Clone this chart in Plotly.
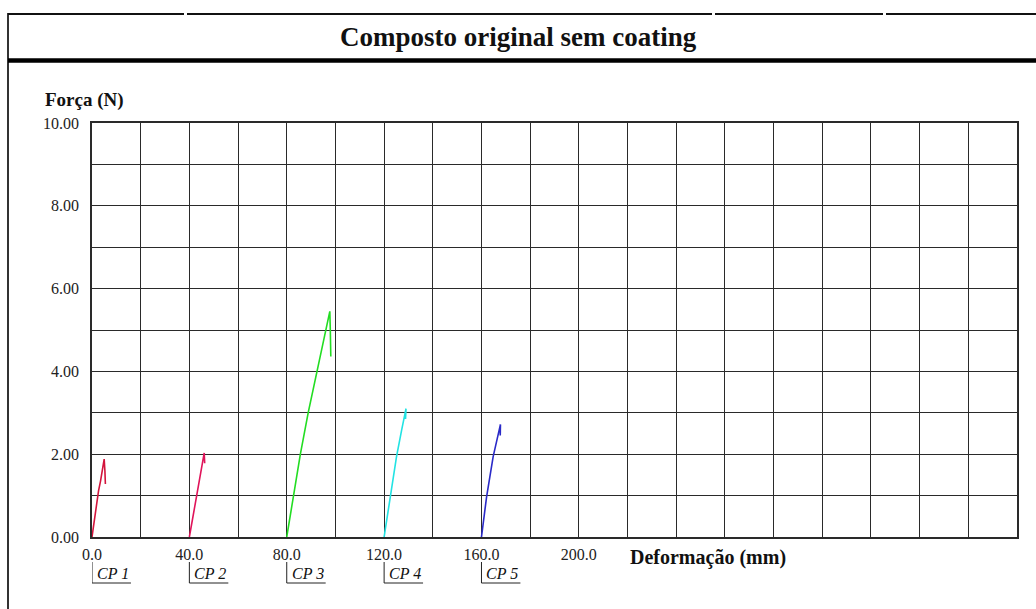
import plotly.graph_objects as go

# ---- data ----
series_names = ["CP 1", "CP 2", "CP 3", "CP 4", "CP 5"]
offsets = [0, 40, 80, 120, 160]
colors = ["#d3143c", "#e0145a", "#22dd22", "#22e3e3", "#2a2ac8"]

cp1_def = [0, 1.2, 2.4, 2.7, 3.5, 4.3, 4.8, 5.0, 5.3, 5.5]
cp1_force = [0, 0.55, 1.05, 1.12, 1.35, 1.7, 1.86, 1.88, 1.6, 1.28]
cp2_def = [0, 3.0, 5.8, 6.1, 6.3]
cp2_force = [0, 1.0, 1.95, 2.03, 1.78]
cp3_def = [0, 2.7, 5.6, 8.8, 12.0, 15.0, 17.2, 17.7, 17.9, 18.1]
cp3_force = [0, 0.97, 2.0, 3.0, 3.9, 4.75, 5.3, 5.45, 5.0, 4.36]
cp4_def = [0, 2.4, 5.1, 7.2, 8.6, 9.0, 8.8]
cp4_force = [0, 0.97, 1.94, 2.58, 2.95, 3.1, 2.85]
cp5_def = [0, 2.1, 4.8, 6.6, 7.6, 7.8, 7.7, 7.75]
cp5_force = [0, 0.97, 1.94, 2.4, 2.6, 2.72, 2.45, 2.55]

x_grid = list(range(0, 381, 20))
x_labels = {0: "0.0", 40: "40.0", 80: "80.0", 120: "120.0", 160: "160.0", 200: "200.0"}
y_grid = list(range(0, 11, 1))
y_labels = {0: "0.00", 2: "2.00", 4: "4.00", 6: "6.00", 8: "8.00", 10: "10.00"}

title_text = "Composto original sem coating"
y_title = "Força (N)"
x_title = "Deformação (mm)"

# ---- geometry helpers (pixel -> paper) ----
W, H = 1036, 609
L, R, T, B = 92, 19, 123, 72
PW, PH = W - L - R, H - T - B


def px(x):
    return (x - L) / PW


def py(y):
    return (H - B - y) / PH


fig = go.Figure()
defs = [cp1_def, cp2_def, cp3_def, cp4_def, cp5_def]
forces = [cp1_force, cp2_force, cp3_force, cp4_force, cp5_force]
for name, off, col, d, f in zip(series_names, offsets, colors, defs, forces):
    fig.add_trace(go.Scatter(
        x=[off + v for v in d], y=f, mode="lines", name=name,
        line=dict(color=col, width=1.6), hoverinfo="skip"))

serif = "Liberation Serif"
grid_col = "#2a2a2a"

fig.update_layout(
    width=W, height=H, autosize=False,
    margin=dict(l=L, r=R, t=T, b=B, pad=0),
    paper_bgcolor="white", plot_bgcolor="white",
    showlegend=False,
    font=dict(family=serif, color="#111"),
    xaxis=dict(range=[0, 380], tickmode="array", tickvals=x_grid,
               ticktext=[x_labels.get(v, "") for v in x_grid],
               showgrid=True, gridcolor=grid_col, gridwidth=1.2,
               showline=True, linecolor=grid_col, linewidth=1.5, mirror=True,
               zeroline=False, ticks="", tickfont=dict(size=16, family=serif, color="#222"),
               ticklabelstandoff=2, fixedrange=True),
    yaxis=dict(range=[0, 10], tickmode="array", tickvals=y_grid,
               ticktext=[y_labels.get(v, "") for v in y_grid],
               showgrid=True, gridcolor=grid_col, gridwidth=1.2,
               showline=True, linecolor=grid_col, linewidth=1.5, mirror=True,
               zeroline=False, ticks="", tickfont=dict(size=16, family=serif, color="#222"),
               ticklabelstandoff=8, fixedrange=True),
)

# Title and axis titles
fig.add_annotation(text="<b>" + title_text + "</b>", xref="paper", yref="paper",
                   x=px(518), y=py(37), xanchor="center", yanchor="middle",
                   showarrow=False, font=dict(size=27, family=serif, color="#111"))
fig.add_annotation(text="<b>" + y_title + "</b>", xref="paper", yref="paper",
                   x=px(43), y=py(100), xanchor="left", yanchor="middle",
                   showarrow=False, font=dict(size=19, family=serif, color="#111"))
fig.add_annotation(text="<b>" + x_title + "</b>", xref="paper", yref="paper",
                   x=px(628), y=py(557), xanchor="left", yanchor="middle",
                   showarrow=False, font=dict(size=20, family=serif, color="#111"))

# CP labels with L brackets
for name, off in zip(series_names, offsets):
    fig.add_annotation(text="<i>" + name + "</i>", xref="x", yref="paper",
                       x=off, y=py(573), xanchor="left", yanchor="middle", xshift=3,
                       showarrow=False, font=dict(size=16, family=serif, color="#111"))
    fig.add_shape(type="line", xref="x", yref="paper", x0=off, x1=off,
                  y0=py(562), y1=py(583), line=dict(color="#222", width=1))
    fig.add_shape(type="line", xref="x", yref="paper", x0=off, x1=off + 16,
                  y0=py(583), y1=py(583), line=dict(color="#222", width=1))

# Outer frame pieces
frame = "#111"
fig.add_shape(type="line", xref="paper", yref="paper", x0=px(8), x1=px(8),
              y0=py(13), y1=py(609), line=dict(color="#333", width=2))
top_segments = [(8, 184), (187, 712), (715, 883), (886, 1036)]
for a, b in top_segments:
    fig.add_shape(type="line", xref="paper", yref="paper", x0=px(a), x1=px(b),
                  y0=py(14), y1=py(14), line=dict(color=frame, width=2))
fig.add_shape(type="line", xref="paper", yref="paper", x0=px(8), x1=px(1036),
              y0=py(60.5), y1=py(60.5), line=dict(color="#000", width=4.5))

fig.write_html("out.html")
